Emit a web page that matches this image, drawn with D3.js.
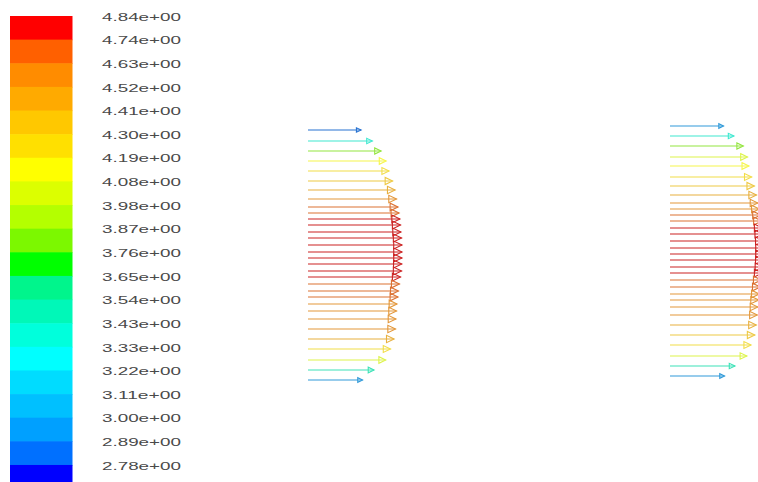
<!DOCTYPE html>
<html>
<head>
<meta charset="utf-8">
<script src="https://cdn.jsdelivr.net/npm/d3@7/dist/d3.min.js"></script>
<style>
  html, body { margin: 0; padding: 0; background: #ffffff; overflow: hidden; }
  svg { display: block; }
</style>
</head>
<body>
<svg id="plot" width="758" height="482"></svg>
<script>
// Colour map levels (velocity magnitude, m/s), top to bottom
const tickLabels = [
  "4.84e+00", "4.74e+00", "4.63e+00", "4.52e+00", "4.41e+00",
  "4.30e+00", "4.19e+00", "4.08e+00", "3.98e+00", "3.87e+00",
  "3.76e+00", "3.65e+00", "3.54e+00", "3.43e+00", "3.33e+00",
  "3.22e+00", "3.11e+00", "3.00e+00", "2.89e+00", "2.78e+00"
];
const bandColors = [
  "#ff0000", "#ff6000", "#ff8c00", "#ffaa00", "#ffc800",
  "#ffe000", "#ffff00", "#dcff00", "#b4ff00", "#7cf800",
  "#00ff00", "#00f58c", "#00f8b8", "#00ffdc", "#00ffff",
  "#00dcff", "#00c0ff", "#00a0ff", "#0070ff", "#0000ff"
];

// Cell-centre positions across the channel (mm)
const cellR = [
  12.5, 11.45, 10.45, 9.45, 8.45, 7.4, 6.5, 5.6, 4.85, 4.2, 3.6, 3.0,
  2.35, 1.7, 1.0, 0.35, -0.25, -0.9, -1.55, -2.2, -2.85, -3.55, -4.25,
  -4.9, -5.55, -6.35, -7.4, -8.4, -9.4, -10.5, -11.5, -12.5
];

// Streamwise stations (mm) and their grid offset across the channel (mm)
const stationX = [30, 66.2];
const stationShift = [0, 0.4];

// Velocity magnitude at each cell centre (m/s)
const speedStation1 = [
  2.88, 3.42, 3.84, 4.08, 4.22, 4.39, 4.51, 4.58, 4.65, 4.70, 4.74, 4.77,
  4.79, 4.82, 4.84, 4.84, 4.84, 4.83, 4.82, 4.77, 4.72, 4.67, 4.65, 4.60,
  4.58, 4.55, 4.53, 4.46, 4.29, 4.06, 3.50, 2.95
];
const speedStation2 = [
  2.90, 3.40, 3.85, 4.05, 4.12, 4.25, 4.38, 4.48, 4.55, 4.62, 4.68, 4.73,
  4.77, 4.80, 4.83, 4.84, 4.84, 4.83, 4.81, 4.77, 4.72, 4.67, 4.62, 4.58,
  4.55, 4.52, 4.47, 4.40, 4.22, 4.02, 3.45, 2.95
];

const svg = d3.select("#plot");
const W = 758, H = 482;
svg.append("rect").attr("width", W).attr("height", H).attr("fill", "#ffffff");

// ---------- colour map legend ----------
const bandScale = d3.scaleBand()
  .domain(tickLabels)
  .range([16, 16 + 20 * 23.63])
  .paddingInner(0).paddingOuter(0);

const legend = svg.append("g").attr("class", "colormap");
legend.selectAll("rect")
  .data(tickLabels)
  .join("rect")
  .attr("x", 10)
  .attr("y", d => bandScale(d))
  .attr("width", 62.5)
  .attr("height", bandScale.bandwidth() + 0.6)
  .attr("fill", (d, i) => bandColors[i]);

legend.selectAll("text")
  .data(tickLabels)
  .join("text")
  .attr("x", 102)
  .attr("y", d => bandScale(d) + 1.2)
  .attr("dominant-baseline", "central")
  .attr("font-family", "'Liberation Sans', Arial, Helvetica, sans-serif")
  .attr("font-size", 10.3)
  .attr("textLength", 79)
  .attr("lengthAdjust", "spacingAndGlyphs")
  .attr("fill", "#4a4a4a")
  .text(d => d);

// ---------- vector scales ----------
const tickValuesAsc = tickLabels.map(Number).reverse();
const colorsAsc = bandColors.slice().reverse();
const colorScale = d3.scaleThreshold()
  .domain(tickValuesAsc.slice(0, -1))
  .range(colorsAsc);

// thin vector strokes: keep luminance, soften saturation
function strokeTone(c) {
  const rgb = d3.rgb(c);
  const l = 0.299 * rgb.r + 0.587 * rgb.g + 0.114 * rgb.b;
  const muted = d3.interpolateRgb(c, d3.rgb(l, l, l))(0.3);
  return d3.interpolateRgb(muted, "#ffffff")(0.05);
}

const xScale = d3.scaleLinear().domain([0, 100]).range([8, 1008]);
const yScale = d3.scaleLinear().domain([12.5, -12.5]).range([130, 380]);
const lenScale = d3.scaleLinear().domain([2.78, 4.84]).range([51, 94]);

// snap rows to whole pixels so every shaft renders with the same softness
const rowY = r => Math.round(yScale(r));

const stations = [speedStation1, speedStation2];
const vectors = svg.append("g").attr("class", "vectors");

stations.forEach((speeds, s) => {
  const x0 = xScale(stationX[s]);
  const rows = cellR.map((r, i) => ({ r: r + stationShift[s], v: speeds[i] }));
  const g = vectors.append("g");
  const arrows = g.selectAll("g.arrow")
    .data(rows)
    .join("g")
    .attr("class", "arrow");

  arrows.append("line")
    .attr("x1", x0)
    .attr("x2", d => x0 + lenScale(d.v))
    .attr("y1", d => rowY(d.r))
    .attr("y2", d => rowY(d.r))
    .attr("stroke", d => strokeTone(colorScale(d.v)))
    .attr("stroke-width", 1.2);

  arrows.append("path")
    .attr("d", d => {
      const len = lenScale(d.v);
      const tip = x0 + len;
      const y = rowY(d.r);
      const hl = 0.088 * len, hw = 0.48 * hl;
      return `M${tip},${y}L${tip - hl},${y - hw}L${tip - hl},${y + hw}Z`;
    })
    .attr("fill", "none")
    .attr("stroke", d => strokeTone(colorScale(d.v)))
    .attr("stroke-width", 1.1);
});
</script>
</body>
</html>
